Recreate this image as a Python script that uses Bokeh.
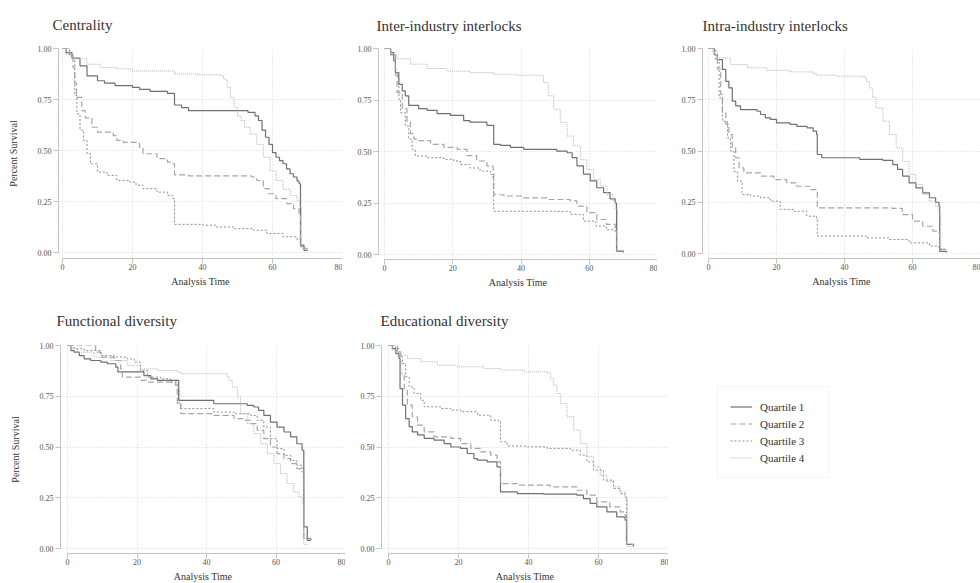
from bokeh.plotting import figure
from bokeh.layouts import row, column
from bokeh.models import FixedTicker, PrintfTickFormatter, Legend, LegendItem, Range1d
from bokeh.embed import file_html
from bokeh.resources import INLINE

# ---- Kaplan-Meier survival estimates by quartile (time, survival) ----
quartiles = ["Quartile 1", "Quartile 2", "Quartile 3", "Quartile 4"]
x_ticks = [0, 20, 40, 60, 80]
y_ticks = [0.0, 0.25, 0.5, 0.75, 1.0]

# Centrality
cent_q1_t = [0, 1, 2.7, 5, 7, 10, 12, 15, 20, 22, 25, 30, 32, 34, 36, 53, 55, 56, 57, 58, 59, 60, 61, 62, 63, 64, 65, 66, 67, 67.6, 68, 69, 70]
cent_q1_s = [1.0, 0.98, 0.953, 0.915, 0.866, 0.842, 0.83, 0.818, 0.809, 0.80, 0.79, 0.78, 0.723, 0.71, 0.695, 0.687, 0.67, 0.647, 0.60, 0.565, 0.53, 0.49, 0.467, 0.45, 0.435, 0.41, 0.386, 0.37, 0.35, 0.337, 0.036, 0.01, 0.01]
cent_q2_t = [0, 2, 3, 3.5, 4, 5.5, 6.5, 8.4, 10, 14.5, 15.5, 17.4, 22, 23, 27, 30, 31, 32, 36, 54, 55.5, 57.4, 59, 61, 64, 66, 67.6, 68, 69, 70]
cent_q2_s = [1.0, 0.97, 0.907, 0.83, 0.76, 0.695, 0.66, 0.614, 0.59, 0.573, 0.55, 0.54, 0.516, 0.484, 0.46, 0.443, 0.435, 0.381, 0.376, 0.37, 0.353, 0.313, 0.288, 0.264, 0.24, 0.215, 0.19, 0.03, 0.02, 0.02]
cent_q3_t = [0, 2, 3, 3.5, 4.1, 5, 6, 7, 8, 10, 12.7, 15.5, 19.3, 21, 23, 27, 30, 31.5, 32, 40, 44, 49, 54.6, 58.4, 63, 67, 68, 69, 70]
cent_q3_s = [1.0, 0.97, 0.95, 0.77, 0.68, 0.6, 0.55, 0.484, 0.435, 0.394, 0.378, 0.353, 0.345, 0.33, 0.313, 0.296, 0.28, 0.264, 0.138, 0.134, 0.125, 0.117, 0.109, 0.093, 0.077, 0.064, 0.03, 0.02, 0.02]
cent_q4_t = [0, 1, 3, 7, 10.8, 15.5, 20, 32, 39, 45.5, 46, 47, 48, 49, 50, 51, 52, 53.6, 55.5, 57.4, 59.3, 61, 63, 65, 67, 67.8, 68.3, 70]
cent_q4_s = [1.0, 0.97, 0.95, 0.923, 0.907, 0.9, 0.89, 0.875, 0.871, 0.866, 0.85, 0.81, 0.76, 0.71, 0.67, 0.647, 0.614, 0.58, 0.53, 0.467, 0.40, 0.353, 0.31, 0.28, 0.256, 0.223, 0.02, 0.01]

# Inter-industry interlocks
inter_q1_t = [0, 1.8, 2.7, 3.2, 4.2, 5.2, 6.1, 7.1, 10, 12.5, 15.4, 19.3, 23.2, 25, 30, 32, 34, 36.9, 40.8, 50.5, 53.5, 55, 56.4, 58.3, 60.3, 62.2, 64.2, 66.1, 67.6, 68, 70]
inter_q1_s = [1.0, 0.98, 0.94, 0.883, 0.826, 0.794, 0.77, 0.724, 0.708, 0.70, 0.684, 0.675, 0.65, 0.643, 0.627, 0.535, 0.53, 0.52, 0.51, 0.502, 0.494, 0.47, 0.43, 0.39, 0.357, 0.324, 0.30, 0.27, 0.25, 0.016, 0.01]
inter_q2_t = [0, 1.8, 3.2, 3.7, 5.2, 6.6, 7.6, 8.6, 9.6, 13.5, 17.4, 21.3, 24.2, 27, 30, 31.8, 32, 35, 40, 47.6, 54.4, 56.4, 59.3, 62.2, 65, 67.6, 68, 70]
inter_q2_s = [1.0, 0.97, 0.9, 0.786, 0.708, 0.643, 0.587, 0.56, 0.553, 0.535, 0.52, 0.51, 0.48, 0.454, 0.43, 0.413, 0.29, 0.284, 0.275, 0.267, 0.26, 0.235, 0.203, 0.17, 0.146, 0.13, 0.015, 0.01]
inter_q3_t = [0, 1.8, 3.2, 4.2, 4.7, 6.1, 7.1, 8.1, 9, 12.5, 17.4, 20.3, 22.2, 25, 28, 31, 31.8, 32, 50, 54.4, 58.3, 62, 65, 67.6, 68, 70]
inter_q3_s = [1.0, 0.97, 0.867, 0.753, 0.688, 0.624, 0.56, 0.51, 0.478, 0.47, 0.462, 0.454, 0.437, 0.42, 0.405, 0.389, 0.365, 0.21, 0.209, 0.195, 0.162, 0.138, 0.12, 0.105, 0.015, 0.01]
inter_q4_t = [0, 1.8, 3.7, 7.6, 12.5, 18.3, 25, 32, 38.8, 46, 46.6, 48, 49.6, 51.5, 53.5, 55.4, 57.4, 59.3, 61.3, 63.2, 65.2, 67, 67.6, 68.3, 70]
inter_q4_s = [1.0, 0.967, 0.95, 0.924, 0.903, 0.89, 0.883, 0.875, 0.87, 0.868, 0.835, 0.77, 0.705, 0.64, 0.575, 0.527, 0.46, 0.413, 0.365, 0.332, 0.29, 0.26, 0.22, 0.02, 0.01]

# Intra-industry interlocks
intra_q1_t = [0, 1.7, 2.6, 4.1, 5.1, 6, 7, 8, 9.4, 14.3, 15.3, 16.7, 18.2, 20, 24, 26, 29, 30.8, 31.8, 32, 33.3, 44.5, 51.3, 54.2, 55.6, 57.1, 59, 61, 63, 65, 66.8, 67.8, 68, 70]
intra_q1_s = [1.0, 0.97, 0.946, 0.898, 0.84, 0.808, 0.743, 0.72, 0.702, 0.694, 0.678, 0.662, 0.654, 0.637, 0.63, 0.62, 0.613, 0.597, 0.58, 0.483, 0.467, 0.459, 0.454, 0.434, 0.41, 0.377, 0.345, 0.32, 0.296, 0.272, 0.25, 0.23, 0.01, 0.005]
intra_q2_t = [0, 1.7, 2.6, 3.6, 4.1, 5.1, 6, 7, 8, 9, 10.4, 15.3, 19.2, 23, 26, 29.9, 32, 54, 57, 60, 63, 66, 67.8, 68, 70]
intra_q2_s = [1.0, 0.97, 0.9, 0.776, 0.686, 0.63, 0.58, 0.515, 0.467, 0.418, 0.393, 0.377, 0.36, 0.345, 0.328, 0.312, 0.223, 0.22, 0.19, 0.158, 0.133, 0.109, 0.1, 0.02, 0.02]
intra_q3_t = [0, 2, 3.1, 4.1, 5.6, 6.5, 7.5, 8.5, 9.9, 12.4, 15.3, 18.2, 21.1, 25, 28.9, 31.8, 32, 46.4, 53.2, 59, 65, 67.8, 68.3, 70]
intra_q3_s = [1.0, 0.946, 0.76, 0.645, 0.564, 0.5, 0.4, 0.353, 0.288, 0.28, 0.272, 0.255, 0.215, 0.206, 0.182, 0.166, 0.085, 0.076, 0.068, 0.052, 0.036, 0.028, 0.02, 0.02]
intra_q4_t = [0, 1.2, 2.6, 6.5, 11.4, 17.2, 24, 30.8, 31.8, 37.6, 45.4, 46.4, 47.4, 48.3, 49.3, 51.3, 53.2, 55.2, 57.1, 59, 61, 63, 64.9, 66.8, 67.8, 68.3, 70]
intra_q4_s = [1.0, 0.987, 0.954, 0.922, 0.906, 0.893, 0.886, 0.877, 0.87, 0.865, 0.86, 0.84, 0.808, 0.76, 0.71, 0.645, 0.58, 0.515, 0.45, 0.385, 0.337, 0.288, 0.255, 0.23, 0.19, 0.02, 0.02]

# Functional diversity
func_q1_t = [0, 1, 1.9, 3.4, 4.8, 6.7, 9.6, 11.5, 13.9, 14.5, 22, 24, 25.9, 32, 42.1, 51.7, 53.6, 55, 56.5, 58.4, 60.3, 62.3, 64.2, 66, 67.5, 68, 69, 70]
func_q1_s = [1.0, 0.975, 0.967, 0.95, 0.934, 0.926, 0.918, 0.91, 0.893, 0.87, 0.852, 0.836, 0.828, 0.73, 0.713, 0.705, 0.697, 0.68, 0.656, 0.623, 0.598, 0.574, 0.55, 0.516, 0.484, 0.107, 0.04, 0.04]
func_q2_t = [0, 8.1, 9.6, 13.4, 15.3, 15.8, 21, 23, 31.1, 31.6, 32.6, 42.1, 47.9, 50.8, 52.7, 54.6, 56.5, 58.4, 60.3, 62.3, 64.2, 66, 67.5, 68, 70]
func_q2_s = [1.0, 0.967, 0.943, 0.926, 0.885, 0.844, 0.828, 0.82, 0.803, 0.713, 0.664, 0.656, 0.64, 0.631, 0.615, 0.582, 0.541, 0.5, 0.467, 0.443, 0.418, 0.393, 0.377, 0.05, 0.04]
func_q3_t = [0, 1.9, 4.8, 9.6, 13.4, 17.2, 19.2, 21, 23, 26.8, 29.7, 31.6, 32.1, 32.6, 42.1, 47.9, 52.7, 54.6, 56.5, 58.4, 60.3, 62.3, 64.2, 66, 67.5, 68, 70]
func_q3_s = [1.0, 0.984, 0.975, 0.95, 0.943, 0.934, 0.918, 0.877, 0.844, 0.836, 0.82, 0.795, 0.713, 0.689, 0.672, 0.664, 0.656, 0.631, 0.598, 0.541, 0.492, 0.459, 0.434, 0.41, 0.393, 0.05, 0.03]
func_q4_t = [0, 1, 2.9, 7.7, 12.5, 17.2, 21, 25.9, 31.6, 32.6, 46, 46.5, 47.4, 48.9, 49.8, 51.7, 53.6, 55.6, 57.5, 59.4, 61.3, 63.2, 65.1, 66.6, 67.5, 68, 69]
func_q4_s = [1.0, 0.984, 0.967, 0.943, 0.926, 0.902, 0.885, 0.877, 0.869, 0.861, 0.845, 0.828, 0.795, 0.746, 0.664, 0.615, 0.566, 0.516, 0.467, 0.418, 0.369, 0.32, 0.279, 0.254, 0.221, 0.02, 0.02]

# Educational diversity
edu_q1_t = [0, 1.1, 2.1, 3, 3.3, 4, 4.9, 5.9, 6.8, 8.3, 10.2, 13, 15.9, 17.8, 20.6, 22.5, 24.4, 25.4, 28.2, 31, 32, 36.8, 44.3, 53.8, 55.7, 57.6, 59.5, 62.4, 65.2, 67.6, 68, 70]
edu_q1_s = [1.0, 0.985, 0.96, 0.936, 0.788, 0.706, 0.64, 0.6, 0.575, 0.56, 0.542, 0.534, 0.517, 0.5, 0.493, 0.468, 0.443, 0.435, 0.427, 0.402, 0.279, 0.27, 0.268, 0.263, 0.246, 0.222, 0.205, 0.18, 0.156, 0.14, 0.02, 0.01]
edu_q2_t = [0, 2.6, 3.5, 4.5, 5.4, 6.8, 8.3, 10.2, 13, 17.8, 20.6, 23.5, 26.3, 29.2, 31, 32, 36.8, 46.2, 53.8, 56.7, 59.5, 63.2, 66.2, 67.6, 68, 70]
edu_q2_s = [1.0, 0.97, 0.862, 0.78, 0.706, 0.649, 0.608, 0.575, 0.55, 0.542, 0.517, 0.493, 0.476, 0.46, 0.427, 0.32, 0.312, 0.304, 0.287, 0.263, 0.23, 0.205, 0.18, 0.164, 0.02, 0.01]
edu_q3_t = [0, 2, 3, 4, 4.9, 5.9, 7.3, 9.2, 10.2, 14.9, 17.8, 20.6, 25.4, 29.2, 31.5, 32, 33.9, 39.6, 45.3, 52, 54.8, 56.7, 58.6, 61.4, 64.3, 66.2, 67.6, 68, 70]
edu_q3_s = [1.0, 0.985, 0.944, 0.911, 0.846, 0.796, 0.764, 0.73, 0.698, 0.69, 0.682, 0.674, 0.657, 0.632, 0.624, 0.526, 0.505, 0.501, 0.493, 0.484, 0.46, 0.427, 0.386, 0.337, 0.296, 0.271, 0.255, 0.02, 0.01]
edu_q4_t = [0, 1.1, 2.6, 5.4, 9.2, 14, 19.7, 27.3, 32, 38.7, 45.3, 46.2, 47.2, 48.1, 49.1, 51, 52.9, 54.8, 56.7, 58.6, 60.5, 62.4, 64.3, 66.2, 67.6, 68.3, 70]
edu_q4_s = [1.0, 0.977, 0.952, 0.936, 0.92, 0.903, 0.895, 0.887, 0.879, 0.87, 0.866, 0.838, 0.805, 0.764, 0.714, 0.649, 0.583, 0.517, 0.452, 0.402, 0.361, 0.329, 0.304, 0.279, 0.246, 0.01, 0.01]

# ---- styling ----
SERIF = "Liberation Serif"
LINE_STYLES = [
    dict(line_color="#707070", line_width=1.2, line_dash="solid"),
    dict(line_color="#a6a6a6", line_width=1.2, line_dash="6 3"),
    dict(line_color="#8c8c8c", line_width=1.0, line_dash="2 2"),
    dict(line_color="#b5b5b5", line_width=1.0, line_dash="1 1"),
]
AXIS_COLOR = "#c4c4c4"
GRID_COLOR = "#d6d6d6"


def km_panel(title, curves, frame_left, x0_px, x80_px, frame_top, y0_px, axis_y_px,
             fig_w, fig_h, ylabel=None, title_offset=-4, title_standoff=27, title_valign="top"):
    """One survival panel; pixel arguments are relative to the figure's top-left."""
    frame_w = fig_w - frame_left
    sx = (x80_px - x0_px) / 80.0
    x_start = -(x0_px - frame_left) / sx
    x_end = x_start + frame_w / sx
    frame_h = axis_y_px - frame_top
    sy = (y0_px - frame_top) / 1.0
    y_start = -(axis_y_px - y0_px) / sy

    p = figure(frame_width=frame_w, frame_height=frame_h,
               x_range=Range1d(x_start, x_end), y_range=Range1d(y_start, 1.0),
               min_border_left=frame_left, min_border_right=0,
               min_border_top=frame_top, min_border_bottom=fig_h - axis_y_px,
               output_backend="svg", toolbar_location=None,
               background_fill_color="white", border_fill_color="white")
    p.outline_line_color = None

    p.title.text = title
    p.title.text_font = SERIF
    p.title.text_font_size = "15px"
    p.title.text_font_style = "normal"
    p.title.text_color = "#333333"
    p.title.align = "left"
    p.title.vertical_align = title_valign
    p.title.offset = title_offset
    p.title.standoff = title_standoff

    for (t, s), style in zip(curves, LINE_STYLES):
        p.step(t, s, mode="after", **style)

    xa, ya = p.xaxis[0], p.yaxis[0]
    xa.ticker = FixedTicker(ticks=x_ticks)
    ya.ticker = FixedTicker(ticks=y_ticks)
    ya.formatter = PrintfTickFormatter(format="%.2f")
    xa.bounds = (0, 80)
    ya.bounds = (0, 1)
    for ax in (xa, ya):
        ax.axis_line_color = AXIS_COLOR
        ax.major_tick_line_color = AXIS_COLOR
        ax.minor_tick_line_color = None
        ax.major_tick_in = 0
        ax.major_tick_out = 5
        ax.major_label_text_font = SERIF
        ax.major_label_text_font_size = "8px"
        ax.major_label_text_color = "#555555"
        ax.major_label_standoff = 2
        ax.axis_label_text_font = SERIF
        ax.axis_label_text_font_size = "10px"
        ax.axis_label_text_font_style = "normal"
        ax.axis_label_text_color = "#333333"
    xa.major_label_standoff = 0
    xa.axis_label = "Analysis Time"
    xa.axis_label_standoff = 3
    if ylabel:
        ya.axis_label = ylabel
        ya.axis_label_standoff = 16

    for g in (p.xgrid[0], p.ygrid[0]):
        g.grid_line_color = GRID_COLOR
        g.grid_line_dash = "1 2"
        g.grid_line_width = 1
    return p


f1 = km_panel("Centrality",
              [(cent_q1_t, cent_q1_s), (cent_q2_t, cent_q2_s), (cent_q3_t, cent_q3_s), (cent_q4_t, cent_q4_s)],
              58, 62, 342, 48, 252, 258, 342, 290, ylabel="Percent Survival", title_offset=-6)
f2 = km_panel("Inter-industry interlocks",
              [(inter_q1_t, inter_q1_s), (inter_q2_t, inter_q2_s), (inter_q3_t, inter_q3_s), (inter_q4_t, inter_q4_s)],
              36, 42, 315, 46, 252, 257, 315, 290, title_offset=-2, title_standoff=25)
f3 = km_panel("Intra-industry interlocks",
              [(intra_q1_t, intra_q1_s), (intra_q2_t, intra_q2_s), (intra_q3_t, intra_q3_s), (intra_q4_t, intra_q4_s)],
              45, 51, 323, 47, 252, 257, 323, 290, title_offset=0, title_standoff=26)
f4 = km_panel("Functional diversity",
              [(func_q1_t, func_q1_s), (func_q2_t, func_q2_s), (func_q3_t, func_q3_s), (func_q4_t, func_q4_s)],
              60, 67, 345, 55, 258, 263, 345, 293, ylabel="Percent Survival",
              title_offset=-4, title_standoff=34, title_valign="bottom")
f5 = km_panel("Educational diversity",
              [(edu_q1_t, edu_q1_s), (edu_q2_t, edu_q2_s), (edu_q3_t, edu_q3_s), (edu_q4_t, edu_q4_s)],
              36, 43, 323, 55, 258, 263, 323, 293,
              title_offset=-1, title_standoff=34, title_valign="bottom")

# legend panel: line renderers carry no visible points, only their styles
leg = figure(width=312, height=293, x_range=(0, 1), y_range=(0, 1),
             min_border=0, output_backend="svg", toolbar_location=None)
leg.axis.visible = False
leg.grid.visible = False
leg.outline_line_color = None
items = []
nan = float("nan")
for name, style in zip(quartiles, LINE_STYLES):
    r = leg.line([nan, nan], [nan, nan], **style)
    items.append(LegendItem(label=name, renderers=[r]))
legend = Legend(items=items, location=(49, 74),
                label_text_font=SERIF, label_text_font_size="11px", label_text_color="#333333",
                glyph_width=22, glyph_height=15, label_height=15, label_width=56, label_standoff=8,
                spacing=2, padding=12, margin=0,
                border_line_color="#ececec", background_fill_alpha=0)
leg.add_layout(legend, "center")

layout = column(row(f1, f2, f3), row(f4, f5, leg))

with open("out.html", "w") as fh:
    fh.write(file_html(layout, INLINE))
